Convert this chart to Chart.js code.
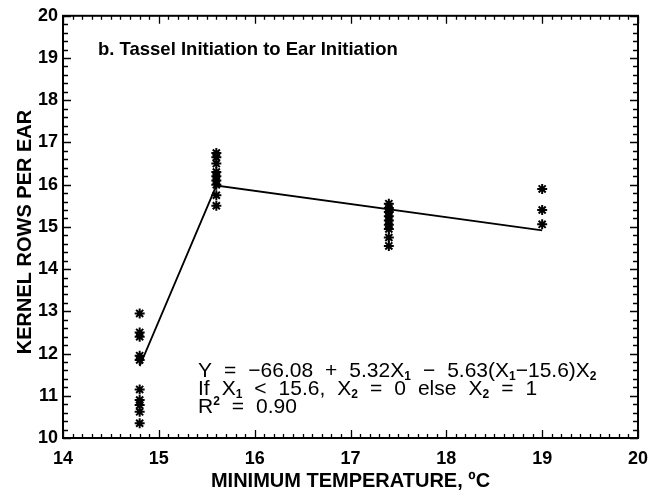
<!DOCTYPE html>
<html>
<head>
<meta charset="utf-8">
<script src="https://cdn.jsdelivr.net/npm/chart.js@4.4.0/dist/chart.umd.min.js"></script>
<style>
  html, body { margin: 0; padding: 0; background: #fff; }
  #wrap { width: 648px; height: 497px; }
</style>
</head>
<body>
<div id="wrap"><canvas id="chart" width="648" height="497"></canvas></div>
<script>
// observed kernel rows per ear at each minimum temperature
const temp148 = [12.95, 12.5, 12.4, 11.95, 11.85, 11.15, 10.9, 10.78, 10.62, 10.35];
const temp156 = [16.75, 16.65, 16.5, 16.3, 16.2, 16.1, 16.0, 15.75, 15.5];
const temp174 = [15.55, 15.45, 15.35, 15.25, 15.15, 15.05, 14.95, 14.75, 14.55];
const temp190 = [15.9, 15.4, 15.06];
const groupTemps = [14.8, 15.6, 17.4, 19.0];

// fitted broken-line model
const fitX = [14.8, 15.6, 19.0];
const fitY = [11.7, 15.98, 14.92];

const xTicks = [14, 15, 16, 17, 18, 19, 20];
const yTicks = [10, 11, 12, 13, 14, 15, 16, 17, 18, 19, 20];

const panelTitle = 'b. Tassel Initiation to Ear Initiation';
const xTitle = 'MINIMUM TEMPERATURE, \u00baC';
const yTitle = 'KERNEL ROWS PER EAR';

// equation tokens: plain text, 'sub'/'sup' pieces, and null for a word gap
const eqLines = [
    [['Y'], null, ['='], null, ['\u221266.08'], null, ['+'], null, ['5.32X'], ['1', 'sub'], null,
     ['\u2212'], null, ['5.63(X'], ['1', 'sub'], ['\u221215.6)X'], ['2', 'sub']],
    [['If'], null, ['X'], ['1', 'sub'], null, ['<'], null, ['15.6,'], null, ['X'], ['2', 'sub'], null,
     ['='], null, ['0'], null, ['else'], null, ['X'], ['2', 'sub'], null, ['='], null, ['1']],
    [['R'], ['2', 'sup'], null, ['='], null, ['0.90']]
];

const obsPoints = [];
[temp148, temp156, temp174, temp190].forEach((vals, i) => {
    vals.forEach(v => obsPoints.push({ x: groupTemps[i], y: v }));
});
const fitPoints = fitX.map((x, i) => ({ x: x, y: fitY[i] }));

const FONT = '"Liberation Sans", Arial, Helvetica, sans-serif';

// frame, inward ticks on all four sides, titles and equation
const framePlugin = {
    id: 'frame',
    afterDraw(chart) {
        const ctx = chart.ctx;
        const a = chart.chartArea;
        const xs = chart.scales.x, ys = chart.scales.y;
        ctx.save();
        ctx.strokeStyle = '#000';
        ctx.lineWidth = 2;
        ctx.strokeRect(a.left, a.top, a.right - a.left, a.bottom - a.top);

        ctx.lineWidth = 1.3;
        ctx.beginPath();
        for (let i = 0; i <= 60; i++) {
            const v = 14 + i / 10;
            const px = Math.round(xs.getPixelForValue(v)) + 0.5;
            const len = (i % 10 === 0) ? 8 : 4;
            ctx.moveTo(px, a.bottom); ctx.lineTo(px, a.bottom - len);
            ctx.moveTo(px, a.top); ctx.lineTo(px, a.top + len);
        }
        for (let i = 0; i <= 50; i++) {
            const v = 10 + i / 5;
            const py = Math.round(ys.getPixelForValue(v)) + 0.5;
            const len = (i % 5 === 0) ? 8 : 5;
            ctx.moveTo(a.left, py); ctx.lineTo(a.left + len, py);
            ctx.moveTo(a.right, py); ctx.lineTo(a.right - len, py);
        }
        ctx.stroke();

        ctx.fillStyle = '#000';
        ctx.textBaseline = 'alphabetic';
        ctx.textAlign = 'left';
        ctx.font = 'bold 18.5px ' + FONT;
        ctx.fillText(panelTitle, 98, 55);

        // axis titles
        ctx.font = 'bold 20px ' + FONT;
        ctx.textAlign = 'center';
        ctx.textBaseline = 'middle';
        ctx.fillText(xTitle, (a.left + a.right) / 2, 481);
        ctx.save();
        ctx.translate(25, 232);
        ctx.rotate(-Math.PI / 2);
        ctx.fillText(yTitle, 0, 0);
        ctx.restore();

        ctx.textAlign = 'left';
        ctx.textBaseline = 'alphabetic';
        let y = 377;
        eqLines.forEach(line => {
            let x = 198;
            line.forEach(seg => {
                if (seg === null) { x += 12; return; }
                const kind = seg[1];
                if (kind === 'sub') {
                    ctx.font = 'bold 12px ' + FONT;
                    ctx.fillText(seg[0], x, y + 3);
                } else if (kind === 'sup') {
                    ctx.font = 'bold 12px ' + FONT;
                    ctx.fillText(seg[0], x, y - 8);
                } else {
                    ctx.font = '21px ' + FONT;
                    ctx.fillText(seg[0], x, y);
                }
                x += ctx.measureText(seg[0]).width;
            });
            y += 18;
        });
        ctx.restore();
    }
};

new Chart(document.getElementById('chart'), {
    type: 'scatter',
    data: {
        datasets: [
            {
                label: 'Observed',
                data: obsPoints,
                pointStyle: 'star',
                pointRadius: 5,
                borderColor: '#000',
                backgroundColor: '#000',
                borderWidth: 2,
                showLine: false
            },
            {
                label: 'Fit',
                data: fitPoints,
                showLine: true,
                pointRadius: 0,
                borderColor: '#000',
                borderWidth: 1.8,
                tension: 0
            }
        ]
    },
    options: {
        responsive: false,
        animation: false,
        devicePixelRatio: 1,
        layout: { padding: { top: 15, right: 10, left: 0, bottom: 0 } },
        plugins: {
            legend: { display: false },
            tooltip: { enabled: false }
        },
        scales: {
            x: {
                type: 'linear',
                min: 14, max: 20,
                afterBuildTicks: s => { s.ticks = xTicks.map(v => ({ value: v })); },
                afterFit: s => { s.height = 59; s.paddingLeft = 0; s.paddingRight = 0; },
                grid: { display: false, drawTicks: false },
                border: { display: false },
                ticks: {
                    color: '#000',
                    padding: 10,
                    maxRotation: 0,
                    font: { family: FONT, size: 18, weight: 'bold' }
                },
                title: { display: false }
            },
            y: {
                type: 'linear',
                min: 10, max: 20,
                afterBuildTicks: s => { s.ticks = yTicks.map(v => ({ value: v })); },
                afterFit: s => { s.width = 63; },
                grid: { display: false, drawTicks: false },
                border: { display: false },
                ticks: {
                    color: '#000',
                    padding: 5,
                    font: { family: FONT, size: 18, weight: 'bold' }
                },
                title: { display: false }
            }
        }
    },
    plugins: [framePlugin]
});
</script>
</body>
</html>
